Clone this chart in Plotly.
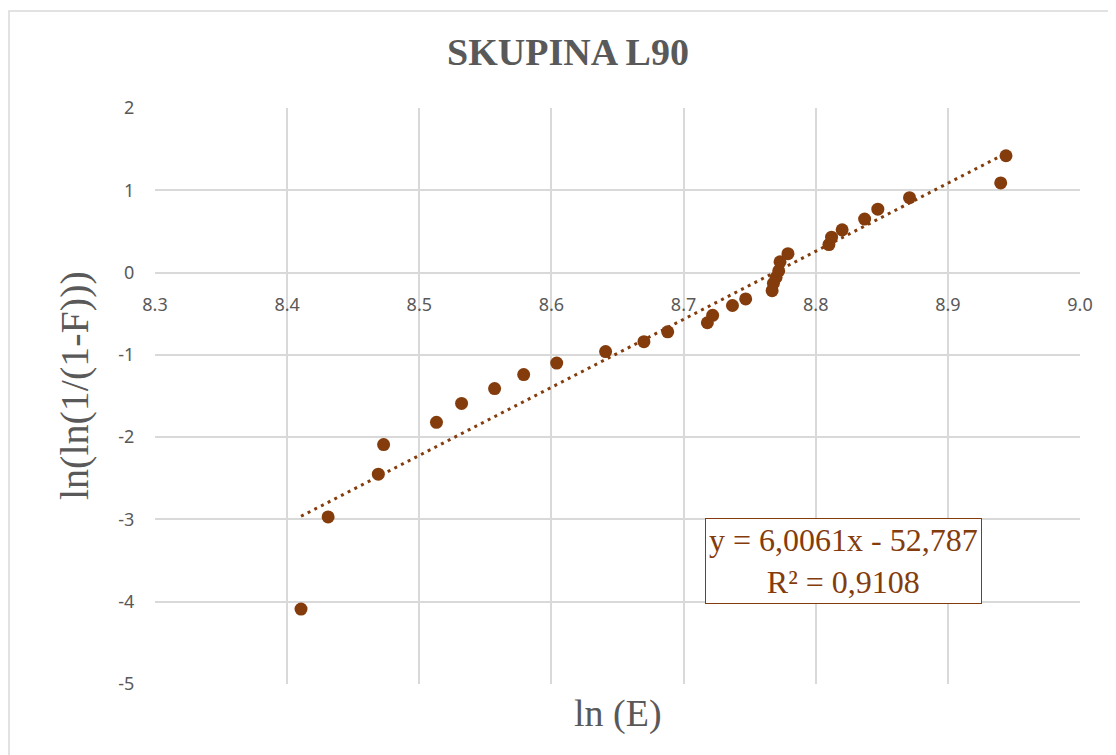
import numpy as np
import plotly.graph_objects as go

# ln(E) a ln(ln(1/(1-F)))
ln_e = [8.4105, 8.431, 8.469, 8.473, 8.513, 8.532, 8.557, 8.579, 8.604, 8.641,
        8.670, 8.688, 8.718, 8.722, 8.737, 8.747, 8.767, 8.768, 8.770, 8.772,
        8.773, 8.779, 8.810, 8.812, 8.820, 8.837, 8.847, 8.871, 8.940, 8.944]
ln_f = [-4.09, -2.97, -2.45, -2.09, -1.82, -1.59, -1.41, -1.24, -1.10, -0.96,
        -0.84, -0.72, -0.61, -0.52, -0.40, -0.32, -0.22, -0.13, -0.06, 0.02,
        0.13, 0.23, 0.34, 0.43, 0.52, 0.65, 0.77, 0.91, 1.09, 1.42]

x_ticks = [8.3, 8.4, 8.5, 8.6, 8.7, 8.8, 8.9, 9.0]
x_labels = ['8.3', '8.4', '8.5', '8.6', '8.7', '8.8', '8.9', '9.0']
y_ticks = [2, 1, 0, -1, -2, -3, -4, -5]
y_labels = ['2', '1', '0', '-1', '-2', '-3', '-4', '-5']

rovnice = 'y = 6,0061x - 52,787<br>R² = 0,9108'

hneda = '#843C0C'
seda = '#595959'
mrizka = '#d9d9d9'

# lineární trend (Excel)
k, q = np.polyfit(ln_e, ln_f, 1)
trend_x = [min(ln_e), max(ln_e)]
trend_y = [k * v + q for v in trend_x]

fig = go.Figure()
fig.add_trace(go.Scatter(x=trend_x, y=trend_y, mode='lines',
                         line=dict(color=hneda, width=3, dash='3px,4.5px'),
                         hoverinfo='skip', showlegend=False))
fig.add_trace(go.Scatter(x=ln_e, y=ln_f, mode='markers',
                         marker=dict(color=hneda, size=13),
                         showlegend=False))

# stránka má okraj 8 px, plocha grafu 155-1080 x 108-684 px
off = 8
fig.update_layout(
    width=1116, height=755,
    margin=dict(l=155 - off, r=1116 + off - 1080, t=108 - off, b=755 + off - 684),
    paper_bgcolor='white', plot_bgcolor='white',
    title=dict(text='<b>SKUPINA L90</b>', x=(568 - off) / 1116, xanchor='center',
               y=1 - (52 - off) / 755, yanchor='middle',
               font=dict(family='Liberation Serif', size=38, color=seda)),
    xaxis=dict(range=[8.3, 9.0], tickvals=x_ticks, ticktext=x_labels,
               anchor='free', position=5 / 7,
               showgrid=True, gridcolor=mrizka, gridwidth=1.5,
               zeroline=False, showline=False,
               ticks='outside', ticklen=16, tickcolor='rgba(0,0,0,0)',
               tickfont=dict(family='Noto Sans', size=18, color=seda)),
    yaxis=dict(range=[-5, 2], tickvals=y_ticks, ticktext=y_labels,
               showgrid=True, gridcolor=mrizka, gridwidth=1.5,
               zeroline=False, showline=False,
               ticks='outside', ticklen=16, tickcolor='rgba(0,0,0,0)',
               tickfont=dict(family='Noto Sans', size=18, color=seda)),
    annotations=[
        dict(text='ln (E)', x=(618 - 155) / 925, xref='paper',
             y=(684 - 713) / 576, yref='paper',
             showarrow=False, xanchor='center', yanchor='middle',
             font=dict(family='Liberation Serif', size=38, color=seda)),
        dict(text='ln(ln(1/(1-F)))', x=(74 - 155) / 925, xref='paper',
             y=(684 - 386) / 576, yref='paper', textangle=-90,
             showarrow=False, xanchor='center', yanchor='middle',
             font=dict(family='Liberation Serif', size=40, color=seda)),
        dict(text=rovnice, x=8.8207, y=-3.50, xref='x', yref='y',
             showarrow=False, align='center',
             bordercolor=hneda, borderwidth=1, borderpad=3, bgcolor='white',
             font=dict(family='Liberation Serif', size=32, color=hneda)),
    ],
    shapes=[dict(type='rect', xref='paper', yref='paper',
                 x0=(9 - 155) / 925, x1=1.1, y0=-0.3, y1=(684 - 11) / 576,
                 line=dict(color=mrizka, width=1.5), layer='below')],
)

fig.write_html('out.html')
